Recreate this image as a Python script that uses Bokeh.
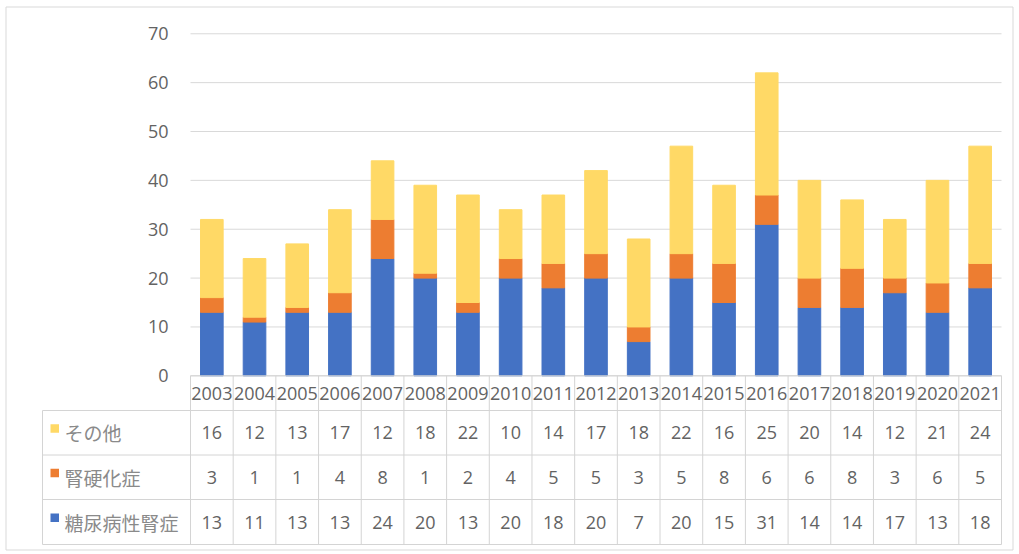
from bokeh.plotting import figure
from bokeh.models import ColumnDataSource, Range1d, FixedTicker, LinearAxis
from bokeh.embed import file_html
from bokeh.resources import INLINE
from bokeh.core.properties import value

# ---- data -------------------------------------------------------------
years = ["2003", "2004", "2005", "2006", "2007", "2008", "2009", "2010", "2011", "2012",
         "2013", "2014", "2015", "2016", "2017", "2018", "2019", "2020", "2021"]
other = [16, 12, 13, 17, 12, 18, 22, 10, 14, 17, 18, 22, 16, 25, 20, 14, 12, 21, 24]
nephrosclerosis = [3, 1, 1, 4, 8, 1, 2, 4, 5, 5, 3, 5, 8, 6, 6, 8, 3, 6, 5]
diabetic = [13, 11, 13, 13, 24, 20, 13, 20, 18, 20, 7, 20, 15, 31, 14, 14, 17, 13, 18]

series_labels = ["その他", "腎硬化症", "糖尿病性腎症"]   # table rows, top to bottom
y_ticks = [0, 10, 20, 30, 40, 50, 60, 70]

# ---- styling / geometry ------------------------------------------------
BLUE, ORANGE, YELLOW = "#4472C4", "#ED7D31", "#FFD966"
TEXT = "#636363"
LABEL_TEXT = "#8a8a8a"
LINE = "#d4d4d4"
GRID = "#d9d9d9"
NUM_FONT = "Open Sans"
CJK_FONT = "Noto Sans CJK JP"

W, H = 1019, 554
PLOT_L, PLOT_R = 190, 1001   # pixel extent of the year columns
Y0_PX = 375.3                # pixel row of value 0
PX_PER_UNIT = 4.886          # pixels per unit on the value axis
n = len(years)
px_per_cat = (PLOT_R - PLOT_L) / n


def xd(px):
    """pixel column -> x data coordinate (one unit per year column)"""
    return (px - PLOT_L) / px_per_cat


def yd(px):
    """pixel row -> value coordinate"""
    return (Y0_PX - px) / PX_PER_UNIT


xs = [i + 0.5 for i in range(n)]   # centre of each year column

source = ColumnDataSource(dict(x=xs, year=years, diabetic=diabetic,
                               nephro=nephrosclerosis, other=other))

p = figure(width=W, height=H, output_backend="svg", toolbar_location=None,
           x_range=Range1d(xd(0), xd(W)), y_range=Range1d(yd(H), yd(0)),
           x_axis_location=None, y_axis_location=None,
           min_border=0)
p.outline_line_color = None
p.background_fill_color = "white"
p.border_fill_color = "white"
p.xgrid.visible = False
p.ygrid.visible = False

# value axis, anchored at the left edge of the year columns
yaxis = LinearAxis(fixed_location=0, ticker=FixedTicker(ticks=y_ticks))
yaxis.axis_line_color = None
yaxis.major_tick_line_color = None
yaxis.minor_tick_line_color = None
yaxis.major_label_standoff = 16
yaxis.major_label_text_font = NUM_FONT
yaxis.major_label_text_font_size = "18px"
yaxis.major_label_text_color = TEXT
p.add_layout(yaxis, "left")

# horizontal gridlines at the value ticks
p.segment(x0=[0] * len(y_ticks), x1=[n] * len(y_ticks), y0=y_ticks, y1=y_ticks,
          line_color=GRID, line_width=1)

# stacked bars
p.vbar_stack(["diabetic", "nephro", "other"], x="x", width=0.53,
             color=[BLUE, ORANGE, YELLOW], source=source)

# ---- data table below the bars ----------------------------------------
TABLE_L = 42
row_lines_px = [Y0_PX, 410, 454.5, 499, 544]
row_y = [yd(v) for v in row_lines_px]

# horizontal rules: header top spans the year columns, the rest the full table
p.segment(x0=[0] + [xd(TABLE_L)] * (len(row_y) - 1), x1=[n] * len(row_y),
          y0=row_y, y1=row_y, line_color=LINE, line_width=1)
# vertical rules between the years
cols = list(range(n + 1))
p.segment(x0=cols, x1=cols, y0=[row_y[0]] * len(cols), y1=[row_y[-1]] * len(cols),
          line_color=LINE, line_width=1)
# left edge of the label column
p.segment(x0=[xd(TABLE_L)], x1=[xd(TABLE_L)], y0=[row_y[1]], y1=[row_y[-1]],
          line_color=LINE, line_width=1)

# header row: years
header_y = (row_y[0] + row_y[1]) / 2
p.text(x=xs, y=[header_y] * n, text=years, text_align="center",
       text_baseline="middle", text_font=value(NUM_FONT),
       text_font_size="18px", text_color=TEXT)

# value rows with their labels and colour keys
row_values = [other, nephrosclerosis, diabetic]
row_colors = [YELLOW, ORANGE, BLUE]
mids = []
for i, vals in enumerate(row_values):
    top_px, bot_px = row_lines_px[i + 1], row_lines_px[i + 2]
    mid_px = (top_px + bot_px) / 2
    mids.append(mid_px)
    p.text(x=xs, y=[yd(mid_px)] * n, text=[str(v) for v in vals],
           text_align="center", text_baseline="middle",
           text_font=value(NUM_FONT), text_font_size="18px", text_color=TEXT)

p.quad(left=[xd(50)] * 3, right=[xd(58.5)] * 3,
       top=[yd(m - 8.5) for m in mids], bottom=[yd(m) for m in mids],
       fill_color=row_colors, line_color=None)
p.text(x=[xd(64)] * 3, y=[yd(m) for m in mids], text=series_labels,
       text_align="left", text_baseline="middle", text_font=value(CJK_FONT),
       text_font_size="19px", text_color=LABEL_TEXT)

# outer chart border
p.quad(left=[xd(5.5)], right=[xd(1012.5)], top=[yd(6.5)], bottom=[yd(549.5)],
       fill_color=None, line_color=GRID, line_width=1)

open("out.html", "w").write(file_html(p, INLINE))
